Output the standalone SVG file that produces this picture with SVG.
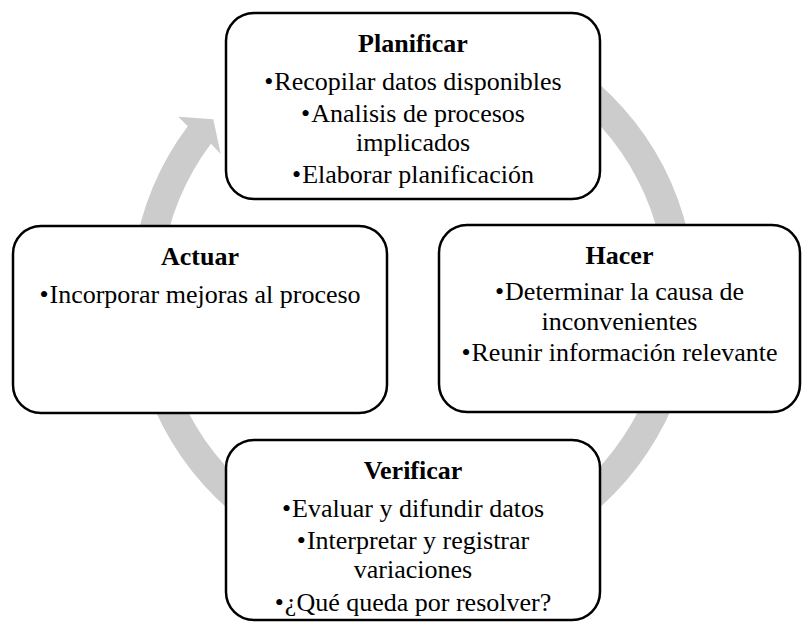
<svg xmlns="http://www.w3.org/2000/svg" width="803" height="622" viewBox="0 0 803 622">
  <style>
    .box { fill: #ffffff; stroke: #000000; stroke-width: 2.5; }
    .ring { fill: #cccccc; stroke: none; }
    text { font-family: "Liberation Serif", "Times New Roman", serif; font-size: 26px; fill: #000000; text-anchor: middle; }
    .title { font-weight: bold; }
  </style>
  <rect width="803" height="622" fill="#ffffff"/>

  <!-- circular arrow running clockwise behind the four stages -->
  <g id="connectors">
    <path class="ring" d="M 239.38 73.78 A 282 282 0 1 1 187.78 126.29 L 178.3 116.7 L 213.3 119.3 L 220.7 154 L 210.94 143.74 A 253 253 0 1 0 257.24 96.63 Z"/>
  </g>

  <g id="planificar">
    <rect class="box" x="226" y="13" width="374" height="186" rx="28" ry="28"/>
    <text class="title" x="413" y="52">Planificar</text>
    <text x="413" y="90">•<tspan dx="1">Recopilar datos disponibles</tspan></text>
    <text><tspan x="413" y="121.5">•<tspan dx="1">Analisis de procesos</tspan></tspan><tspan x="413" y="151">implicados</tspan></text>
    <text x="413" y="183">•<tspan dx="1">Elaborar planificación</tspan></text>
  </g>

  <g id="hacer">
    <rect class="box" x="439" y="225" width="361" height="187" rx="28" ry="28"/>
    <text class="title" x="619.5" y="264">Hacer</text>
    <text><tspan x="619.5" y="300">•<tspan dx="1">Determinar la causa de</tspan></tspan><tspan x="619.5" y="329.5">inconvenientes</tspan></text>
    <text x="619.5" y="361">•<tspan dx="1">Reunir información relevante</tspan></text>
  </g>

  <g id="verificar">
    <rect class="box" x="226" y="440" width="374" height="180" rx="28" ry="28"/>
    <text class="title" x="413" y="479">Verificar</text>
    <text x="413" y="517">•<tspan dx="1">Evaluar y difundir datos</tspan></text>
    <text><tspan x="413" y="548.5">•<tspan dx="1">Interpretar y registrar</tspan></tspan><tspan x="413" y="578">variaciones</tspan></text>
    <text x="413" y="611">•<tspan dx="1">¿Qué queda por resolver?</tspan></text>
  </g>

  <g id="actuar">
    <rect class="box" x="13" y="226" width="374" height="187" rx="28" ry="28"/>
    <text class="title" x="200" y="265">Actuar</text>
    <text x="200" y="303">•<tspan dx="1">Incorporar mejoras al proceso</tspan></text>
  </g>
</svg>
